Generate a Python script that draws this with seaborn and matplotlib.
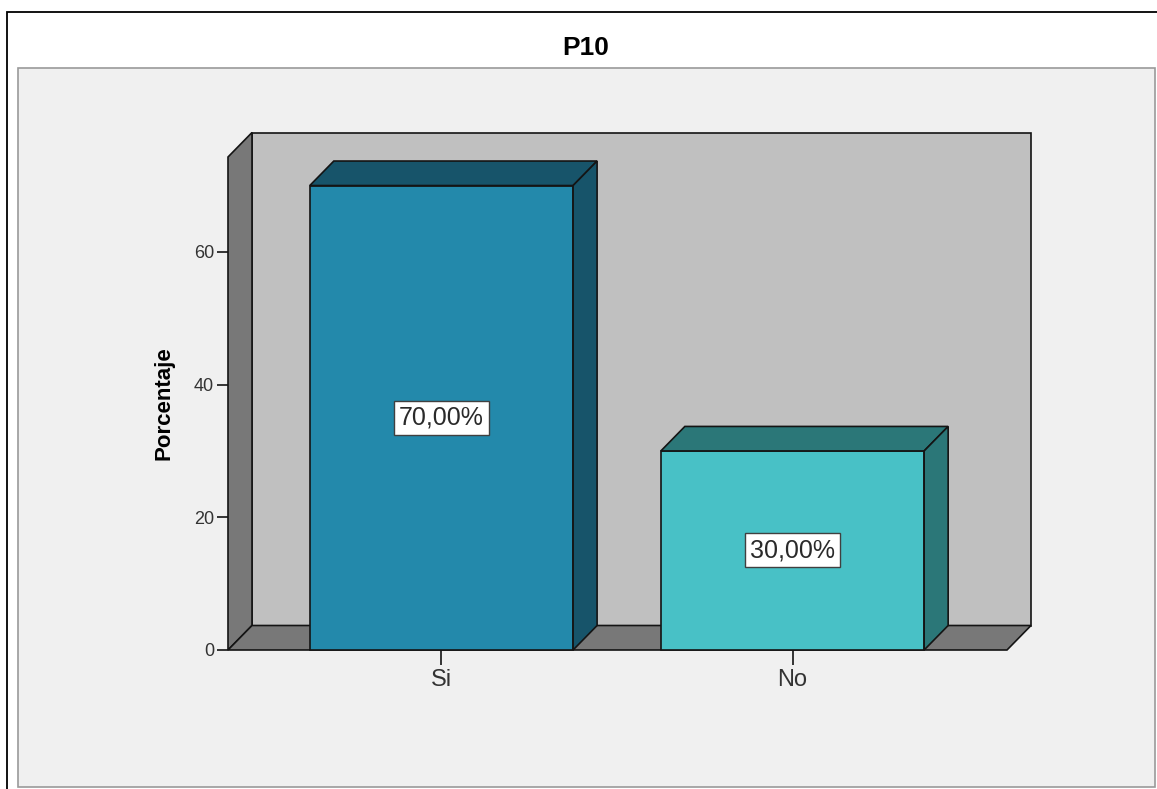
import matplotlib
matplotlib.use("Agg")
import matplotlib.pyplot as plt
import seaborn as sns
import pandas as pd
from matplotlib.patches import Polygon, Rectangle

# ---- data ----
categories = ["Si", "No"]
porcentajes = [70.0, 30.0]
etiquetas = ["70,00%", "30,00%"]
y_ticks = [0, 20, 40, 60]

# ---- styling ----
front_colors = ["#2389ab", "#48c1c6"]
shade_colors = ["#17546a", "#2b7778"]
wall_back = "#c0c0c0"
wall_side = "#787878"
panel_bg = "#f0f0f0"
edge = "#141414"

sns.set_theme(style="white")
plt.rcParams["font.family"] = ["Liberation Sans", "DejaVu Sans"]

W, H = 1157, 789
fig = plt.figure(figsize=(W / 100, H / 100), dpi=100)
fig.patch.set_facecolor("white")

# outer frame and chart panel (behind the axes)
fig.patches.append(Rectangle((7 / W, -0.05), 1.2, (H - 12) / H + 0.05, fill=False,
                             edgecolor="black", lw=1.3, transform=fig.transFigure, zorder=-2))
fig.patches.append(Rectangle((18 / W, 2 / H), (1155 - 18) / W, (787 - 68) / H,
                             facecolor=panel_bg, edgecolor="#9a9a9a", lw=1.2,
                             transform=fig.transFigure, zorder=-1))

ax = fig.add_axes([228 / W, 139 / H, 779 / W, 493 / H])
ax.set_facecolor("none")

df = pd.DataFrame({"cat": categories, "pct": porcentajes})
sns.barplot(data=df, x="cat", y="pct", hue="cat", palette=front_colors, legend=False,
            width=0.75, saturation=1, edgecolor=edge, linewidth=1.2, ax=ax, zorder=5)
bars = list(ax.patches)

x0, x1 = -0.608, 1.611
ymax = 74.3
ax.set_xlim(x0, x1)
ax.set_ylim(0, ymax)

# depth of the 3D effect, converted from pixels to data units
dx = 24 * (x1 - x0) / 779
dy = 24.5 * ymax / 493

# back wall, left wall and floor
ax.add_patch(Rectangle((x0 + dx, dy), x1 - x0, ymax, facecolor=wall_back,
                       edgecolor=edge, lw=1.2, clip_on=False, zorder=1))
ax.add_patch(Polygon([(x0, 0), (x0 + dx, dy), (x0 + dx, ymax + dy), (x0, ymax)],
                     closed=True, facecolor=wall_side, edgecolor=edge, lw=1.2,
                     clip_on=False, zorder=2))
ax.add_patch(Polygon([(x0, 0), (x1, 0), (x1 + dx, dy), (x0 + dx, dy)],
                     closed=True, facecolor=wall_side, edgecolor=edge, lw=1.2,
                     clip_on=False, zorder=2))

# top and side faces of each bar
for bar, shade in zip(bars, shade_colors):
    bx, bw, bh = bar.get_x(), bar.get_width(), bar.get_height()
    bar.set_clip_on(False)
    top = [(bx, bh), (bx + bw, bh), (bx + bw + dx, bh + dy), (bx + dx, bh + dy)]
    side = [(bx + bw, 0), (bx + bw + dx, dy), (bx + bw + dx, bh + dy), (bx + bw, bh)]
    for pts in (top, side):
        ax.add_patch(Polygon(pts, closed=True, facecolor=shade, edgecolor=edge,
                             lw=1.2, clip_on=False, zorder=6))

# value labels
for i, (v, lab) in enumerate(zip(porcentajes, etiquetas)):
    ax.text(i, v / 2, lab, ha="center", va="center", fontsize=18, color="#2a2a2a",
            zorder=10, bbox=dict(boxstyle="square,pad=0.2", facecolor="white",
                                 edgecolor="#404040", lw=1.0))

for s in ax.spines.values():
    s.set_visible(False)

ax.set_yticks(y_ticks)
ax.set_yticklabels([str(t) for t in y_ticks])
ax.tick_params(axis="y", direction="out", length=8, width=1.2, color=edge,
               labelsize=13, labelcolor="#333333", pad=2, left=True)
ax.tick_params(axis="x", direction="out", length=11, width=1.2, color=edge,
               labelsize=17, labelcolor="#333333", pad=3, bottom=True)
ax.set_xlabel("")
ax.set_ylabel("Porcentaje", fontsize=16, fontweight="bold", color="black", labelpad=14)

fig.text(586 / W, (H - 48) / H, "P10", ha="center", va="center", fontsize=19,
         fontweight="bold", color="black")

fig.savefig("out.png", dpi=100)
